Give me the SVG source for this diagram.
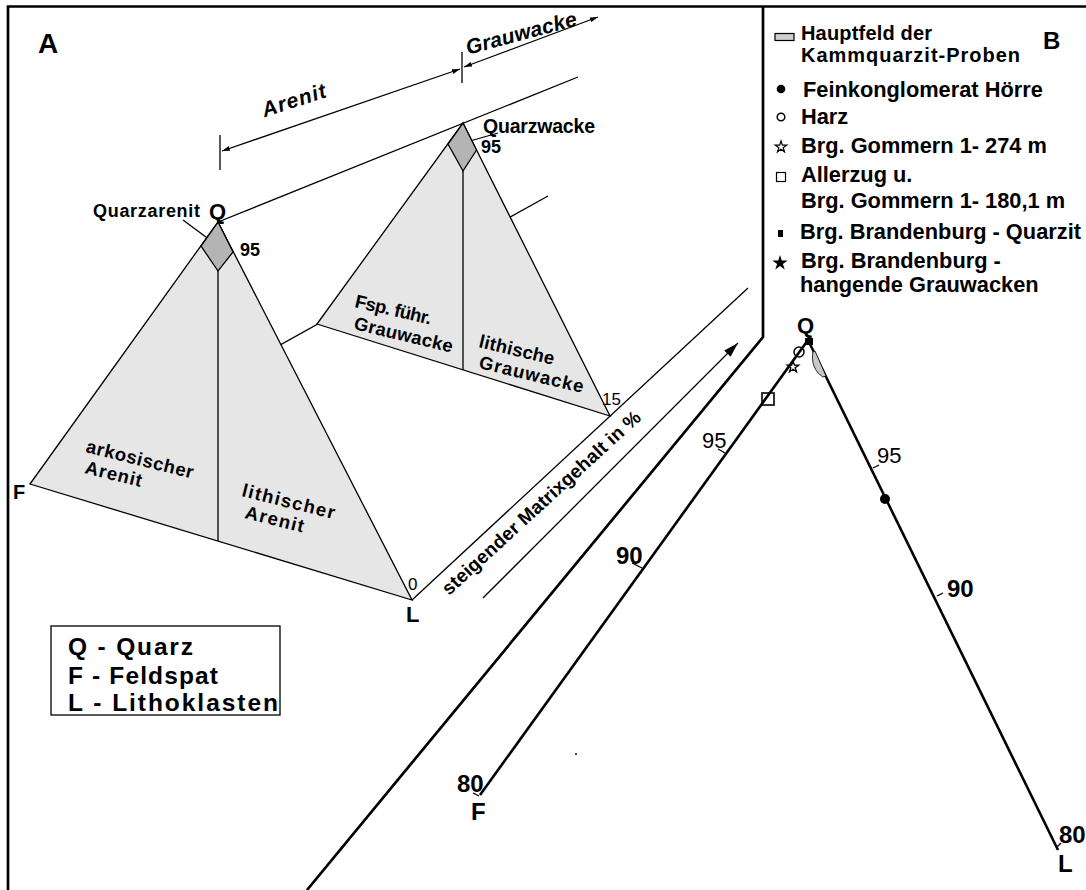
<svg xmlns="http://www.w3.org/2000/svg" width="1086" height="890" viewBox="0 0 1086 890">
<style>
.frame{stroke:#000;stroke-width:2.7;fill:none}
.ln{stroke:#000;stroke-width:1.3;fill:none}
.thk{stroke:#000;stroke-width:2.6;fill:none}
.tri{fill:#e6e6e6;stroke:#000;stroke-width:1.3}
.dia{fill:#b4b4b4;stroke:#000;stroke-width:1.3}
text{font-family:"Liberation Sans",Arial,Helvetica,sans-serif;fill:#000}
.b{font-weight:bold}
.bi{font-weight:bold;font-style:italic}
.lg{font-weight:bold;font-size:21.8px}
.lgs{font-weight:bold;font-size:20px}
.la{font-weight:bold;font-size:24.5px}
.tx{font-weight:bold;font-size:18.5px}
</style>
<defs>
<marker id="ah" viewBox="0 0 10 6" refX="10" refY="3" markerWidth="8" markerHeight="5" orient="auto-start-reverse" markerUnits="userSpaceOnUse"><path d="M0,0 L10,3 L0,6 z" fill="#000"/></marker>
<marker id="ahb" viewBox="0 0 10 6" refX="10" refY="3" markerWidth="15" markerHeight="9" orient="auto" markerUnits="userSpaceOnUse"><path d="M0,0 L10,3 L0,6 z" fill="#000"/></marker>
<path id="star" d="M0,-1 L0.2245,-0.309 L0.951,-0.309 L0.363,0.118 L0.588,0.809 L0,0.382 L-0.588,0.809 L-0.363,0.118 L-0.951,-0.309 L-0.2245,-0.309 Z"/>
</defs>
<rect width="1086" height="890" fill="#fff"/>

<g id="frame">
<path class="frame" d="M8,890 L8,6.5 L1086,6.5"/>
<path class="frame" d="M763,6.5 L763,337 L307,890"/>
</g>

<g id="connectors">
<line class="ln" x1="218" y1="222" x2="578" y2="77"/>
<line class="ln" x1="30" y1="484" x2="548" y2="196"/>
<line class="ln" x1="412" y1="600" x2="748" y2="288"/>
<line class="ln" x1="222" y1="151" x2="460" y2="69" marker-start="url(#ah)" marker-end="url(#ah)"/>
<line class="ln" x1="464" y1="67" x2="598" y2="17" marker-start="url(#ah)" marker-end="url(#ah)"/>
<line class="ln" x1="220" y1="135" x2="220" y2="170"/>
<line class="ln" x1="462" y1="52" x2="462" y2="83"/>
<line class="ln" x1="483" y1="598" x2="738" y2="343" marker-end="url(#ahb)"/>
<line class="ln" x1="183" y1="220" x2="214" y2="243" marker-end="url(#ah)"/>
<line class="ln" x1="498" y1="133" x2="463" y2="143" marker-end="url(#ah)"/>
</g>

<g id="tri-arenit">
<polygon class="tri" points="218,222 412,600 30,484"/>
<polygon class="dia" points="218,222 233,252 218,271 201,246"/>
<line class="ln" x1="218" y1="271" x2="218" y2="541"/>
<text class="tx" x="85" y="452" transform="rotate(14 85 452)" textLength="110" lengthAdjust="spacing">arkosischer</text>
<text class="tx" x="84" y="473" transform="rotate(14 84 473)" textLength="58" lengthAdjust="spacing">Arenit</text>
<text class="tx" x="241" y="496" transform="rotate(14 241 496)" textLength="95" lengthAdjust="spacing">lithischer</text>
<text class="tx" x="244" y="518" transform="rotate(14 244 518)" textLength="60" lengthAdjust="spacing">Arenit</text>
</g>

<g id="tri-grauwacke">
<polygon class="tri" points="463,123 610,416 317,324"/>
<polygon class="dia" points="463,123 476.5,150 463,171 448,144"/>
<line class="ln" x1="463" y1="171" x2="463" y2="370"/>
<text class="tx" x="354" y="307" transform="rotate(13 354 307)" textLength="78" lengthAdjust="spacing">Fsp. führ.</text>
<text class="tx" x="353" y="329" transform="rotate(13.5 353 329)" textLength="101" lengthAdjust="spacing">Grauwacke</text>
<text class="tx" x="478" y="347" transform="rotate(13.5 478 347)" textLength="77" lengthAdjust="spacing">lithische</text>
<text class="tx" x="478" y="368" transform="rotate(13.5 478 368)" textLength="107" lengthAdjust="spacing">Grauwacke</text>
</g>

<g id="labels-a">
<text class="b" x="38" y="53" font-size="28">A</text>
<text class="bi" x="296" y="107" font-size="21" text-anchor="middle" transform="rotate(-18 296 107)" textLength="66" lengthAdjust="spacing">Arenit</text>
<text class="bi" x="523" y="40" font-size="21" text-anchor="middle" transform="rotate(-15 523 40)" textLength="114" lengthAdjust="spacing">Grauwacke</text>
<text class="b" x="93" y="217" font-size="18" textLength="107" lengthAdjust="spacing">Quarzarenit</text>
<text class="b" x="209" y="219" font-size="22">Q</text>
<text class="b" x="240" y="256" font-size="18">95</text>
<text class="b" x="483" y="133" font-size="19.5" textLength="112" lengthAdjust="spacing">Quarzwacke</text>
<text class="b" x="481" y="153" font-size="18">95</text>
<text x="602" y="405" font-size="17">15</text>
<text x="408" y="590" font-size="17">0</text>
<text class="b" x="406" y="622" font-size="22">L</text>
<text class="b" x="13" y="499" font-size="20">F</text>
<text class="b" x="449" y="596" font-size="19" transform="rotate(-42.5 449 596)" textLength="262" lengthAdjust="spacing">steigender Matrixgehalt in %</text>
</g>

<g id="legend-a">
<rect x="51" y="626" width="229" height="89" fill="#fff" stroke="#000" stroke-width="1.3"/>
<text class="la" x="68" y="655" textLength="125" lengthAdjust="spacing">Q - Quarz</text>
<text class="la" x="68" y="684" textLength="150" lengthAdjust="spacing">F - Feldspat</text>
<text class="la" x="68" y="711" textLength="210" lengthAdjust="spacing">L - Lithoklasten</text>
</g>

<g id="triangle-b">
<line class="thk" x1="808" y1="340" x2="480" y2="795"/>
<line class="thk" x1="808" y1="340" x2="1058" y2="850"/>
<line class="ln" x1="718" y1="449" x2="725" y2="453"/>
<line class="ln" x1="632" y1="563" x2="642" y2="568"/>
<line class="ln" x1="873" y1="468" x2="879" y2="465"/>
<line class="ln" x1="937" y1="596" x2="943" y2="593"/>
<line class="ln" x1="473" y1="793" x2="479" y2="796"/>
<line class="ln" x1="1057" y1="847" x2="1061" y2="843"/>
<text x="702" y="448" font-size="22">95</text>
<text class="b" x="616" y="564" font-size="24">90</text>
<text x="877" y="463" font-size="22">95</text>
<text class="b" x="947" y="597" font-size="24">90</text>
<text class="b" x="457" y="792" font-size="24">80</text>
<text class="b" x="471" y="820" font-size="24">F</text>
<text class="b" x="1059" y="843" font-size="24">80</text>
<text class="b" x="1058" y="872" font-size="24">L</text>
<text class="b" x="797" y="333" font-size="22">Q</text>
</g>

<g id="samples-b">
<rect x="805" y="338" width="8" height="7" fill="#000"/>
<circle cx="799" cy="352" r="5" fill="none" stroke="#000" stroke-width="1.5"/>
<use href="#star" transform="translate(793 367) scale(6)" fill="none" stroke="#000" stroke-width="0.22"/>
<rect x="762" y="393" width="12" height="12" fill="none" stroke="#000" stroke-width="1.6"/>
<path d="M813,352 C811,363 815,372 823,377 L826,376 L815,351 Z" fill="#c8c8c8" stroke="#000" stroke-width="0.8"/>
<circle cx="885" cy="499" r="5" fill="#000"/>
<circle cx="576" cy="754" r="1" fill="#000"/>
</g>

<g id="legend-b">
<text class="b" x="1043" y="49" font-size="24">B</text>
<rect x="775" y="33.5" width="19" height="7" fill="#cfcfcf" stroke="#000" stroke-width="1.2"/>
<text class="lgs" x="801" y="40" textLength="131" lengthAdjust="spacing">Hauptfeld der</text>
<text class="lgs" x="801" y="62" textLength="219" lengthAdjust="spacing">Kammquarzit-Proben</text>
<circle cx="781" cy="89" r="4.3" fill="#000"/>
<text class="lg" x="803" y="97">Feinkonglomerat Hörre</text>
<circle cx="781" cy="117" r="3.8" fill="none" stroke="#000" stroke-width="1.5"/>
<text class="lg" x="801" y="124">Harz</text>
<use href="#star" transform="translate(781 147) scale(6)" fill="none" stroke="#000" stroke-width="0.2"/>
<text class="lg" x="801" y="153">Brg. Gommern 1- 274 m</text>
<rect x="776.5" y="172.5" width="9" height="9" fill="none" stroke="#000" stroke-width="1.2"/>
<text class="lg" x="801" y="182">Allerzug u.</text>
<text class="lg" x="801" y="208">Brg. Gommern 1- 180,1 m</text>
<rect x="778" y="230" width="5" height="7" fill="#000"/>
<text class="lg" x="800" y="239">Brg. Brandenburg - Quarzit</text>
<use href="#star" transform="translate(780 263) scale(8)" fill="#000"/>
<text class="lg" x="801" y="268">Brg. Brandenburg -</text>
<text class="lg" x="800" y="292">hangende Grauwacken</text>
</g>
</svg>
